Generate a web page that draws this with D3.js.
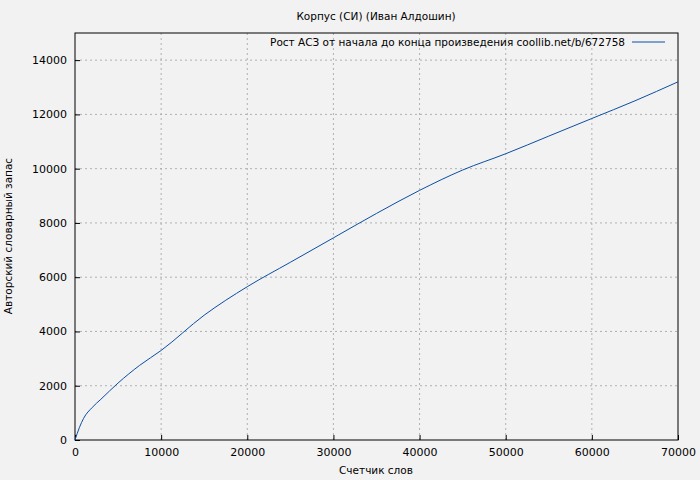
<!DOCTYPE html>
<html><head><meta charset="utf-8">
<script src="https://cdn.jsdelivr.net/npm/d3@7"></script>
<style>body{margin:0;background:#f2f2f2}text{font-family:"DejaVu Sans",sans-serif;font-size:10.5px;fill:#000}</style>
</head><body><svg id="c" width="700" height="480"></svg>
<script>
// words counted vs. author vocabulary
var words = [0, 500, 1000, 2000, 3000, 5000, 7500, 10000, 15000, 20000, 25000, 30000, 35000, 40000, 45000, 50000, 55000, 60000, 65000, 70000];
var vocab = [0, 450, 800, 1200, 1500, 2100, 2750, 3300, 4600, 5650, 6550, 7450, 8350, 9200, 9950, 10550, 11200, 11850, 12500, 13200];
var xTicks = [0, 10000, 20000, 30000, 40000, 50000, 60000, 70000];
var yTicks = [0, 2000, 4000, 6000, 8000, 10000, 12000, 14000];

var svg = d3.select('#c');
var m = {left: 75, right: 678, top: 33, bottom: 440};
var x = d3.scaleLinear().domain([0, 70000]).range([m.left, m.right]);
var y = d3.scaleLinear().domain([0, 15000]).range([m.bottom, m.top]);

var grid = svg.append('g').attr('stroke', '#a0a0a0').attr('stroke-dasharray', '2,3').attr('stroke-width', 0.8);
xTicks.slice(1, -1).forEach(function(t) {
  grid.append('line').attr('x1', x(t)).attr('x2', x(t)).attr('y1', m.top).attr('y2', m.bottom);
});
yTicks.slice(1).forEach(function(t) {
  grid.append('line').attr('x1', m.left).attr('x2', m.right).attr('y1', y(t)).attr('y2', y(t));
});

svg.append('g').attr('transform', 'translate(0,' + m.bottom + ')')
  .call(d3.axisBottom(x).tickValues(xTicks).tickSize(-5).tickPadding(8).tickFormat(d3.format('d')))
  .call(function(g) { g.select('.domain').remove(); });
svg.append('g').attr('transform', 'translate(' + m.left + ',0)')
  .call(d3.axisLeft(y).tickValues(yTicks).tickSize(-5).tickPadding(8).tickFormat(d3.format('d')))
  .call(function(g) { g.select('.domain').remove(); });
svg.selectAll('.tick line').attr('stroke', '#000');
svg.selectAll('.tick text').style('font-size', '11px');

svg.append('rect').attr('x', m.left).attr('y', m.top).attr('width', m.right - m.left).attr('height', m.bottom - m.top)
  .attr('fill', 'none').attr('stroke', '#000');

svg.append('path').datum(words.map(function(w, i) { return [w, vocab[i]]; }))
  .attr('fill', 'none').attr('stroke', '#0b4ea2').attr('stroke-width', 1)
  .attr('d', d3.line().x(function(d) { return x(d[0]); }).y(function(d) { return y(d[1]); }).curve(d3.curveMonotoneX));

svg.append('text').attr('x', 376).attr('y', 20).attr('text-anchor', 'middle').text('Корпус (СИ) (Иван Алдошин)');
svg.append('text').attr('x', 625).attr('y', 46).attr('text-anchor', 'end').text('Рост АСЗ от начала до конца произведения coollib.net/b/672758');
svg.append('line').attr('x1', 632).attr('x2', 665).attr('y1', 42).attr('y2', 42).attr('stroke', '#0b4ea2');
svg.append('text').attr('x', 376).attr('y', 474).attr('text-anchor', 'middle').text('Счетчик слов');
svg.append('text').attr('transform', 'translate(12,236) rotate(-90)').attr('text-anchor', 'middle').text('Авторский словарный запас');
</script></body></html>
